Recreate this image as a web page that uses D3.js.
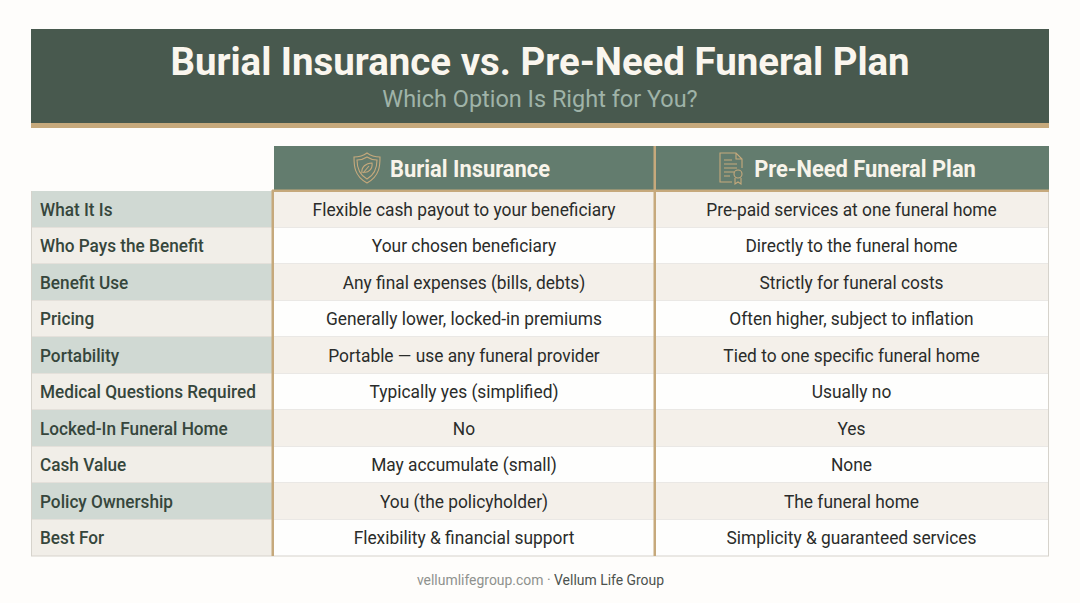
<!DOCTYPE html>
<html lang="en">
<head>
<meta charset="UTF-8" />
<title>Burial Insurance vs. Pre-Need Funeral Plan</title>
<style>
  html, body { margin: 0; padding: 0; background: #fefdfb; }
  svg { display: block; }
  text { font-family: Roboto, "Noto Sans", sans-serif; }
</style>
</head>
<body>
<svg id="chart" width="1080" height="603"></svg>
<script src="https://d3js.org/d3.v7.min.js"></script>
<script>
const title = "Burial Insurance vs. Pre-Need Funeral Plan";
const subtitle = "Which Option Is Right for You?";
const columns = ["Burial Insurance", "Pre-Need Funeral Plan"];
const rowLabels = ["What It Is", "Who Pays the Benefit", "Benefit Use", "Pricing", "Portability",
  "Medical Questions Required", "Locked-In Funeral Home", "Cash Value", "Policy Ownership", "Best For"];
const burialValues = ["Flexible cash payout to your beneficiary", "Your chosen beneficiary",
  "Any final expenses (bills, debts)", "Generally lower, locked-in premiums",
  "Portable \u2014 use any funeral provider", "Typically yes (simplified)", "No",
  "May accumulate (small)", "You (the policyholder)", "Flexibility & financial support"];
const preNeedValues = ["Pre-paid services at one funeral home", "Directly to the funeral home",
  "Strictly for funeral costs", "Often higher, subject to inflation", "Tied to one specific funeral home",
  "Usually no", "Yes", "None", "The funeral home", "Simplicity & guaranteed services"];

const green = "#48594e", headGreen = "#637c6e", gold = "#c6a97c", line = "#d6d3cc";
const svg = d3.select("#chart");

// the reference type is narrower than Roboto, so squeeze it sideways
const squeeze = (x, y, k) => `translate(${x},${y}) scale(${k},1)`;

// banner
svg.append("rect").attr("x", 31).attr("y", 29).attr("width", 1018).attr("height", 94).attr("fill", green);
svg.append("rect").attr("x", 31).attr("y", 123).attr("width", 1018).attr("height", 5).attr("fill", gold);
svg.append("text").attr("transform", squeeze(540, 75, 1.011)).attr("text-anchor", "middle")
  .attr("font-size", 38).attr("font-weight", 700).attr("fill", "#faf6ee").text(title);
svg.append("text").attr("transform", squeeze(540, 107, 0.978)).attr("text-anchor", "middle")
  .attr("font-size", 24).attr("fill", "#9fb3a8").text(subtitle);

// table scales
const y = d3.scaleBand().domain(rowLabels).range([191, 556]);
const colX = d3.scaleOrdinal().domain(columns).range([274, 655]);
const colW = d3.scaleOrdinal().domain(columns).range([381, 394]);

// column heads
svg.selectAll(".head").data(columns).join("rect").attr("class", "head")
  .attr("x", d => colX(d)).attr("y", 146).attr("width", d => colW(d)).attr("height", 44).attr("fill", headGreen);
svg.selectAll(".headText").data(columns).join("text").attr("class", "headText")
  .attr("transform", (d, i) => squeeze(i ? 865 : 470, 176.5, 0.952)).attr("text-anchor", "middle")
  .attr("font-size", 23).attr("font-weight", 700).attr("fill", "#f8f4ea").text(d => d);

// rows
const rows = svg.selectAll(".row").data(rowLabels).join("g").attr("class", "row")
  .attr("transform", d => `translate(0,${y(d)})`);
rows.append("rect").attr("x", 31).attr("width", 241).attr("height", y.bandwidth())
  .attr("fill", (d, i) => i % 2 ? "#f1eee8" : "#d0d9d3");
rows.append("rect").attr("x", 274).attr("width", 775).attr("height", y.bandwidth())
  .attr("fill", (d, i) => i % 2 ? "#fefefd" : "#f4f0ea");
rows.append("line").attr("x1", 31).attr("x2", 1049).attr("y1", y.bandwidth()).attr("y2", y.bandwidth())
  .attr("stroke", line).attr("stroke-width", 1);
rows.append("text").attr("transform", squeeze(40, 24.5, 0.93)).attr("font-size", 18.5).attr("font-weight", 500)
  .attr("fill", "#36463c").text(d => d);
rows.append("text").attr("transform", squeeze(464, 24.5, 0.938)).attr("text-anchor", "middle").attr("font-size", 18.5)
  .attr("fill", "#2a2c2a").text((d, i) => burialValues[i]);
rows.append("text").attr("transform", squeeze(851.5, 24.5, 0.938)).attr("text-anchor", "middle").attr("font-size", 18.5)
  .attr("fill", "#2a2c2a").text((d, i) => preNeedValues[i]);

// outer edges and gold rules
svg.append("line").attr("x1", 1048.5).attr("x2", 1048.5).attr("y1", 191).attr("y2", 556).attr("stroke", line);
svg.append("line").attr("x1", 31.5).attr("x2", 31.5).attr("y1", 191).attr("y2", 556).attr("stroke", line);
svg.append("rect").attr("x", 271.5).attr("y", 190).attr("width", 2.5).attr("height", 366).attr("fill", gold);
svg.append("rect").attr("x", 653.5).attr("y", 146).attr("width", 2.5).attr("height", 410).attr("fill", gold);
svg.append("rect").attr("x", 272).attr("y", 189.5).attr("width", 777).attr("height", 2.5).attr("fill", gold);

// shield icon
const shield = svg.append("g").attr("transform", "translate(367,168)").attr("fill", "none").attr("stroke", gold).attr("stroke-width", 1.1);
shield.append("path").attr("d", "M0,-15 C4,-12 8,-11 13,-11 C13,-3 13,8 0,15 C-13,8 -13,-3 -13,-11 C-8,-11 -4,-12 0,-15Z");
shield.append("path").attr("d", "M0,-11 C3,-9 6,-8 10,-8 C10,-2 9,6 0,11 C-9,6 -10,-2 -10,-8 C-6,-8 -3,-9 0,-11Z");
shield.append("path").attr("d", "M-5,5 C-6,-1 -1,-5 5,-5 C6,1 1,5 -3,4 M-4,5 L2,-2");

// document icon
const doc = svg.append("g").attr("transform", "translate(731,168)").attr("fill", "none").attr("stroke", gold).attr("stroke-width", 1.1);
doc.append("path").attr("d", "M1,14 L-11,14 L-11,-15 L5,-15 L11,-9 L11,0 M5,-15 L5,-9 L11,-9");
doc.append("path").attr("d", "M-7,-8 L1,-8 M-7,-4 L6,-4 M-7,0 L6,0 M-7,4 L3,4 M-7,8 L-1,8");
doc.append("circle").attr("cx", 7).attr("cy", 6).attr("r", 4);
doc.append("path").attr("d", "M4,10 L4,16 L7,14 L10,16 L10,10");

// footer
const foot = svg.append("text").attr("transform", squeeze(540.5, 585, 0.93)).attr("text-anchor", "middle").attr("font-size", 15);
foot.append("tspan").attr("fill", "#8f928e").text("vellumlifegroup.com \u00b7 ");
foot.append("tspan").attr("fill", "#4c524e").text("Vellum Life Group");
</script>
</body>
</html>
